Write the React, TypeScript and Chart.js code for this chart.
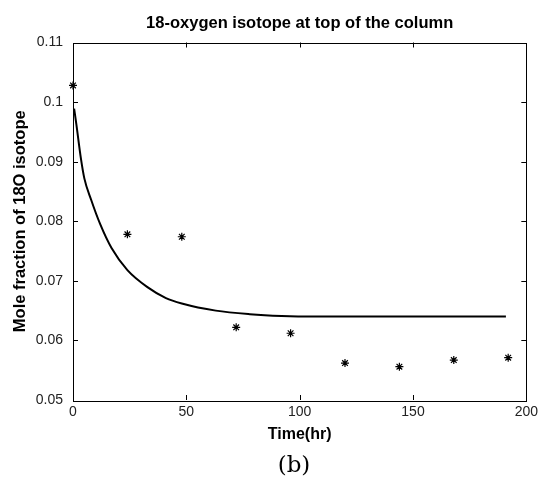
import React, { useEffect, useRef } from "react";
import { Chart, registerables } from "chart.js";

Chart.register(...registerables);

const chartTitle = "18-oxygen isotope at top of the column";
const xTitle = "Time(hr)";
const yTitle = "Mole fraction of 18O isotope";
const caption = "(b)";

const xTicks = [0, 50, 100, 150, 200];
const yTicks = [0.05, 0.06, 0.07, 0.08, 0.09, 0.1, 0.11];

const measTimes = [0, 24, 48, 72, 96, 120, 144, 168, 192];
const measValues = [0.1028, 0.0778, 0.0774, 0.0622, 0.0612, 0.0562, 0.0556, 0.0567, 0.0571];

const modelTimes = [0.5, 1.5, 3.5, 5, 8, 12, 17, 24, 33, 41, 48, 63, 78, 92, 107, 130, 160, 191];
const modelValues = [0.0989, 0.0962, 0.0905, 0.0872, 0.0836, 0.0795, 0.0755, 0.0718, 0.0689, 0.0671, 0.0662, 0.065, 0.0644, 0.0641, 0.064, 0.064, 0.064, 0.064];

const FONT = "'Liberation Sans', Arial, sans-serif";

const frame = {
  id: "frame",
  afterDraw(chart: any) {
    const { ctx, chartArea } = chart;
    const { left, right, top, bottom } = chartArea;
    const xs = chart.scales.x;
    const ys = chart.scales.y;
    ctx.save();
    ctx.strokeStyle = "#000";
    ctx.lineWidth = 1;
    ctx.beginPath();
    const L = 5;
    xTicks.slice(1, -1).forEach((v) => {
      const px = Math.round(xs.getPixelForValue(v)) + 0.5;
      ctx.moveTo(px, bottom);
      ctx.lineTo(px, bottom - L);
      ctx.moveTo(px, top);
      ctx.lineTo(px, top + L);
    });
    yTicks.slice(1, -1).forEach((v) => {
      const py = Math.round(ys.getPixelForValue(v)) + 0.5;
      ctx.moveTo(left, py);
      ctx.lineTo(left + L, py);
      ctx.moveTo(right, py);
      ctx.lineTo(right - L, py);
    });
    ctx.stroke();
    ctx.strokeRect(Math.round(left) + 0.5, Math.round(top) + 0.5, Math.round(right - left), Math.round(bottom - top));
    ctx.fillStyle = "#000";
    ctx.textAlign = "center";
    ctx.textBaseline = "middle";
    // chart title, centred over the plot area
    ctx.font = `bold 16.5px ${FONT}`;
    ctx.fillText(chartTitle, (left + right) / 2, 23.5);
    // y axis title
    ctx.translate(20, (top + bottom) / 2);
    ctx.rotate(-Math.PI / 2);
    ctx.font = `bold 16.5px ${FONT}`;
    ctx.fillText(yTitle, 0, 0);
    ctx.restore();
  },
};

export default function App() {
  const ref = useRef<HTMLCanvasElement | null>(null);
  useEffect(() => {
    if (!ref.current) return;
    const chart = new Chart(ref.current, {
      type: "scatter",
      data: {
        datasets: [
          {
            type: "line",
            data: modelTimes.map((t, i) => ({ x: t, y: modelValues[i] })),
            borderColor: "#000",
            borderWidth: 2,
            pointRadius: 0,
            cubicInterpolationMode: "monotone",
            fill: false,
          } as any,
          {
            type: "scatter",
            data: measTimes.map((t, i) => ({ x: t, y: measValues[i] })),
            pointStyle: "star",
            pointRadius: 4,
            borderColor: "#000",
            backgroundColor: "#000",
            borderWidth: 1.2,
            clip: false,
          } as any,
        ],
      },
      options: {
        animation: false,
        responsive: false,
        devicePixelRatio: 1,
        layout: { padding: { left: 0, right: 13, top: 42.5, bottom: 0 } },
        plugins: {
          legend: { display: false },
          tooltip: { enabled: false },
          title: { display: false },
        },
        scales: {
          x: {
            type: "linear",
            min: 0,
            max: 200,
            afterBuildTicks: (s: any) => {
              s.ticks = xTicks.map((v) => ({ value: v }));
            },
            afterFit: (s: any) => {
              s.height = 78;
            },
            grid: { display: false, drawTicks: false },
            border: { display: false },
            ticks: {
              color: "#222",
              padding: 4,
              font: { family: FONT, size: 14 },
              maxRotation: 0,
              callback: (v: any) => String(v),
            },
            title: {
              display: true,
              text: xTitle,
              color: "#000",
              font: { family: FONT, size: 16, weight: "bold" },
              padding: { top: 0, bottom: 34 },
            },
          },
          y: {
            type: "linear",
            min: 0.05,
            max: 0.11,
            afterBuildTicks: (s: any) => {
              s.ticks = yTicks.map((v) => ({ value: v }));
            },
            afterFit: (s: any) => {
              s.width = 73;
            },
            grid: { display: false, drawTicks: false },
            border: { display: false },
            ticks: {
              color: "#222",
              padding: 10,
              font: { family: FONT, size: 14 },
              callback: (v: any) => String(Number(Number(v).toFixed(2))),
            },
          },
        },
      },
      plugins: [frame],
    } as any);
    return () => chart.destroy();
  }, []);
  return (
    <div style={{ position: "absolute", left: 0, top: 0, width: 542, height: 478, background: "#fff" }}>
      <canvas ref={ref} width={542} height={478} style={{ display: "block" }} />
      <div
        style={{
          position: "absolute",
          left: 0,
          width: 588,
          top: 448,
          textAlign: "center",
          fontFamily: "'DejaVu Serif', serif",
          fontSize: 23,
          lineHeight: "32px",
          color: "#000",
        }}
      >
        {caption}
      </div>
    </div>
  );
}
